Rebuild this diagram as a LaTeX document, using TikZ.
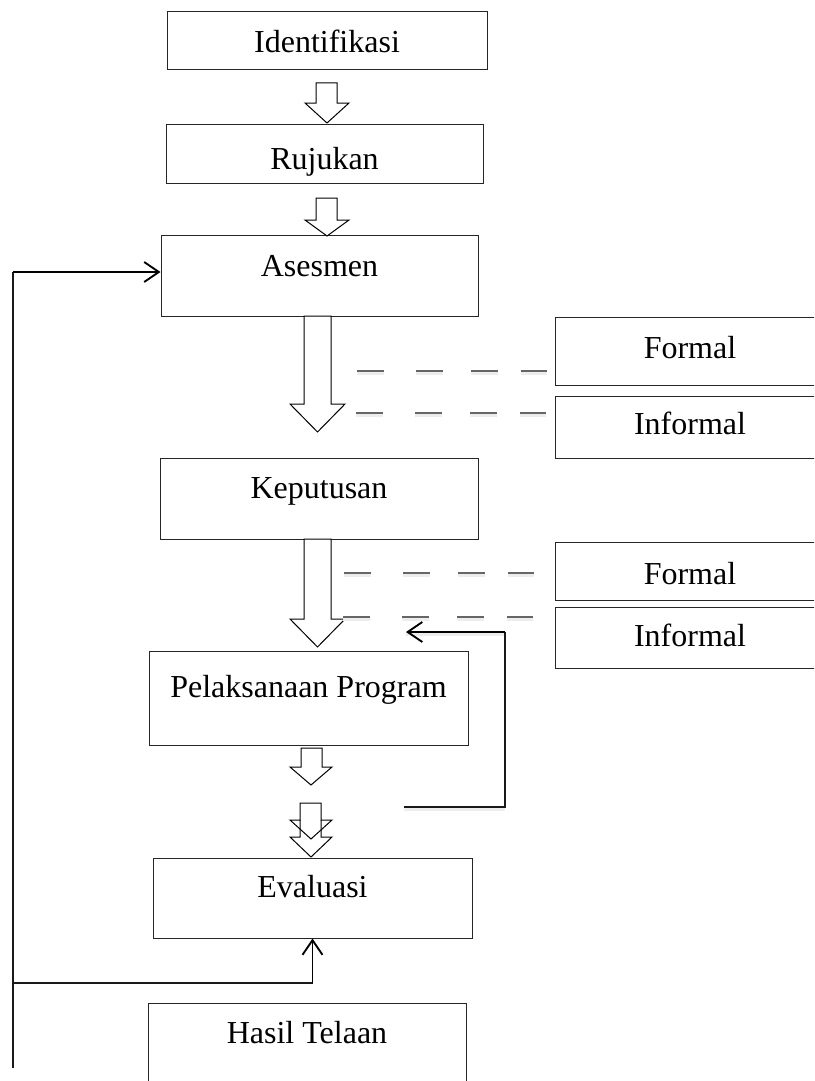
\documentclass[tikz,border=0pt]{standalone}
\usepackage{fontspec}
\setmainfont{Liberation Serif}
\usetikzlibrary{arrows.meta,fit}
\newcommand{\blockarr}[8][blk]{%
  \draw[#1] (#2,#4) -- (#2,#5) -- (#6,#5) -- ({(#6+#7)/2},#8) -- (#7,#5) -- (#3,#5) -- (#3,#4) -- cycle;}
\begin{document}
\begin{tikzpicture}[x=0.75pt,y=-0.75pt,
  box/.style={draw=black!85,line width=0.75pt,fill=white,inner sep=0pt},
  txt/.style={font=\fontsize{24}{28}\selectfont,inner sep=0pt,anchor=base},
  blk/.style={draw=black,line width=0.75pt,fill=white,line join=miter},
  blko/.style={draw=black,line width=0.75pt,line join=miter},
  dpat/.style={dash pattern=on 20pt off 24.5pt on 20pt off 21pt on 20pt off 17.25pt on 20pt off 200pt},
  dsh/.style={draw=black!60,line width=0.9pt,dpat},
  dshad/.style={draw=black!7,line width=3pt,dpat,transform canvas={yshift=-1.8pt}},
  lshad/.style={draw=black!7,line width=3pt,transform canvas={yshift=-1.8pt}},
  thinl/.style={draw=black!90,line width=0.8pt},
  thickl/.style={draw=black,line width=1.4pt},
  tipb/.style={-{Straight Barb[length=11pt,width=15pt]}},
]
\useasboundingbox (0,0) rectangle (814,1081);
\clip (0,0) rectangle (814,1081);

% main boxes
\node[box,fit={(167,12)(487,70)}] (ident) {};
\node[txt] (identt) at (ident.center |- 0,53) {Identifikasi};
\node[box,fit={(166,124)(483,183)}] (rujukan) {};
\node[txt] (rujukant) at (rujukan.center |- 0,169) {Rujukan};
\node[box,fit={(161,235)(478,316)}] (asesmen) {};
\node[txt] (asesment) at (asesmen.center |- 0,276) {Asesmen};
\node[box,fit={(160,458)(478,539)}] (keputusan) {};
\node[txt] (keputusant) at (keputusan.center |- 0,498) {Keputusan};
\node[box,fit={(149,651)(468,745)}] (pelaksanaan) {};
\node[txt] (pelaksanaant) at (pelaksanaan.center |- 0,697) {Pelaksanaan Program};
\node[box,fit={(153,858)(472,938)}] (evaluasi) {};
\node[txt] (evaluasit) at (evaluasi.center |- 0,897) {Evaluasi};
\node[box,fit={(148,1003)(466,1110)}] (hasil) {};
\node[txt] (hasilt) at (hasil.center |- 0,1043) {Hasil Telaan};

% side boxes
\node[box,fit={(555,317)(825,385)}] (formalA) {};
\node[txt] (formalAt) at (formalA.center |- 0,358) {Formal};
\node[box,fit={(555,396)(825,458)}] (informalA) {};
\node[txt] (informalAt) at (informalA.center |- 0,434) {Informal};
\node[box,fit={(555,542)(825,600)}] (formalB) {};
\node[txt] (formalBt) at (formalB.center |- 0,584) {Formal};
\node[box,fit={(555,607)(825,668)}] (informalB) {};
\node[txt] (informalBt) at (informalB.center |- 0,646) {Informal};

% block arrows
\blockarr{316}{337}{83}{103}{305}{349}{123}
\blockarr{316}{337}{198}{220}{305}{349}{236}
\blockarr{304}{331}{316}{404}{290}{345}{432}
\blockarr{304}{331}{539}{619}{290}{345}{647}
\blockarr{301}{322}{748}{767}{290}{332}{785}
\blockarr[blko]{300}{321}{803}{820}{290}{332}{839}
\draw[blko] (300,820) -- (300,837) -- (290,837) -- (311,857) -- (332,837) -- (321,837) -- (321,820);

% dashed links
\coordinate (d1a) at (357,371);
\coordinate (d1b) at (356,413);
\coordinate (d2a) at (344,573);
\coordinate (d2b) at (343,617);
\foreach \s/\t/\sh in {d1a/formalA/5.25pt, d1b/informalA/5.25pt, d2a/formalB/15.75pt, d2b/informalB/15.75pt}{
  \draw[dshad,shorten >=\sh] (\s) -- (\s -| \t.west);
  \draw[dsh,shorten >=\sh] (\s) -- (\s -| \t.west);
}

% right feedback loop
\coordinate (fb0) at (404,807);
\coordinate (fb1) at (505,807);
\coordinate (fb2) at (505,632);
\coordinate (fbt) at (406,632);
\draw[lshad] (fb0) -- (fb1);
\draw[lshad] (fb2) -- (fbt);
\draw[thinl] (fb0) -- (fb1) -- (fb2);
\draw[thickl,tipb] (fb2) -- (fbt);

% left feedback loop
\coordinate (lb) at (13,1068);
\coordinate (lt) at (13,272);
\coordinate (lm) at (13,983);
\draw[thinl] (lb) -- (lt);
\draw[thickl,tipb] (lt) -- (lt -| asesmen.west);
\draw[thinl] (lm) -- (lm -| evaluasi.south);
\draw[thickl,tipb] (lm -| evaluasi.south) -- (evaluasi.south);
\end{tikzpicture}
\end{document}
